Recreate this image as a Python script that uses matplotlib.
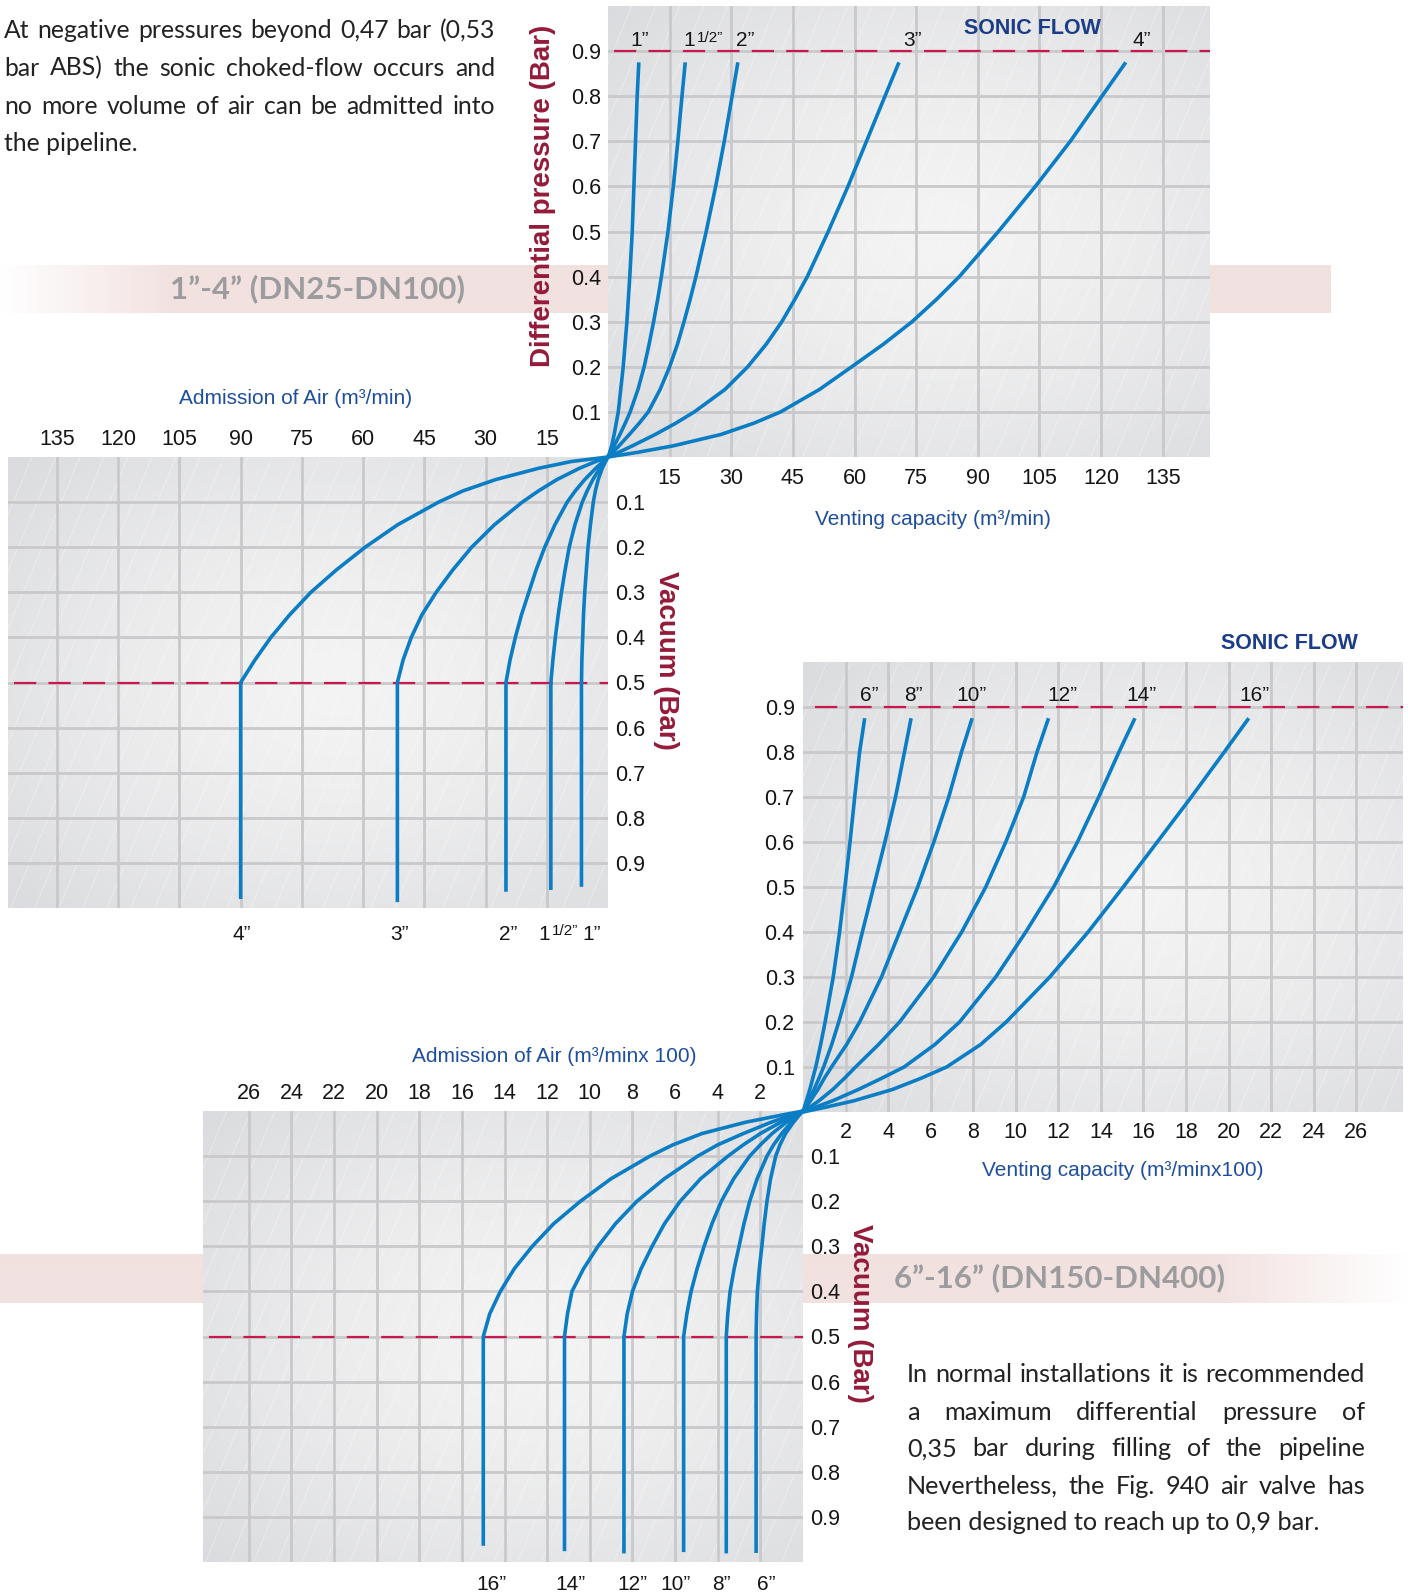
import numpy as np
import matplotlib
matplotlib.use('Agg')
import matplotlib.pyplot as plt
from matplotlib.collections import LineCollection
from matplotlib.transforms import IdentityTransform

plt.rcParams['font.family'] = ['Liberation Sans', 'DejaVu Sans']

W, H = 1408, 1595

# ---- axis ticks
pressure_ticks = [0.1, 0.2, 0.3, 0.4, 0.5, 0.6, 0.7, 0.8, 0.9]
pressure_labels = ['0.1', '0.2', '0.3', '0.4', '0.5', '0.6', '0.7', '0.8', '0.9']
small_flow_ticks = [15, 30, 45, 60, 75, 90, 105, 120, 135]
large_flow_ticks = [2, 4, 6, 8, 10, 12, 14, 16, 18, 20, 22, 24, 26]

# ---- venting 1"-4" (m3/min vs differential pressure, bar)
vent_small_y = [0, 0.01, 0.025, 0.05, 0.075, 0.1, 0.15, 0.2, 0.25, 0.3, 0.35, 0.4,
                0.5, 0.6, 0.7, 0.8, 0.875]
vent_1in = [0, 0.4, 0.9, 1.5, 2.0, 2.5, 3.1, 3.7, 4.15, 4.6, 4.95, 5.3,
            5.9, 6.3, 6.7, 7.1, 7.5]
vent_1_5in = [0, 0.6, 1.5, 2.9, 4.2, 5.4, 7.3, 8.8, 10.0, 11.1, 12.1, 13.0,
              14.6, 15.9, 17.0, 18.0, 18.8]
vent_2in = [0, 1.1, 2.7, 5.2, 7.6, 9.8, 12.7, 15.0, 16.9, 18.5, 20.0, 21.4,
            23.9, 26.2, 28.3, 30.2, 31.6]
vent_3in = [0, 2.5, 6.0, 11.5, 16.5, 21.0, 28.5, 34.0, 38.5, 42.3, 45.5, 48.5,
            53.6, 58.4, 62.9, 67.4, 70.8]
vent_4in = [0, 7.0, 16.0, 27.5, 35.5, 42.0, 51.5, 59.3, 67.0, 74.0, 80.0, 85.5,
            95.0, 104.0, 112.5, 120.2, 126.0]

# ---- admission 1"-4" (m3/min vs vacuum, bar)
adm_small_y = [0, 0.01, 0.025, 0.05, 0.075, 0.1, 0.15, 0.2, 0.25, 0.3, 0.35, 0.4, 0.45, 0.5]
adm_1in = [0, 0.6, 1.4, 2.4, 3.1, 3.6, 4.3, 4.9, 5.3, 5.7, 6.0, 6.2, 6.4, 6.5]
adm_1_5in = [0, 0.8, 2.0, 3.7, 5.1, 6.3, 8.1, 9.5, 10.5, 11.4, 12.2, 12.9, 13.5, 14.0]
adm_2in = [0, 1.2, 3.0, 5.7, 8.0, 10.0, 13.0, 15.5, 17.6, 19.4, 21.2, 22.7, 24.0, 25.0]
adm_3in = [0, 3.0, 7.0, 12.5, 17.0, 21.0, 27.8, 33.4, 38.0, 42.1, 45.6, 48.2, 50.2, 51.6]
adm_4in = [0, 9.0, 17.0, 27.5, 35.5, 41.5, 51.5, 59.5, 66.5, 72.8, 78.0, 82.6, 86.5, 90.0]
adm_small_end = [0.953, 0.96, 0.964, 0.987, 0.98]

# ---- venting 6"-16" (m3/min x100)
vent_big_y = [0, 0.01, 0.025, 0.05, 0.075, 0.1, 0.15, 0.2, 0.3, 0.4, 0.5, 0.6, 0.7, 0.8, 0.875]
vent_6in = [0, 0.06, 0.16, 0.32, 0.46, 0.6, 0.83, 1.04, 1.42, 1.72, 1.97, 2.21, 2.43, 2.66, 2.9]
vent_8in = [0, 0.11, 0.27, 0.52, 0.75, 0.97, 1.35, 1.68, 2.28, 2.79, 3.32, 3.85, 4.35, 4.77, 5.08]
vent_10in = [0, 0.14, 0.35, 0.7, 1.0, 1.34, 2.05, 2.66, 3.69, 4.54, 5.39, 6.15, 6.85, 7.45, 7.95]
vent_12in = [0, 0.3, 0.75, 1.4, 1.95, 2.47, 3.55, 4.54, 6.14, 7.46, 8.59, 9.53, 10.37, 11.0, 11.54]
vent_14in = [0, 0.55, 1.4, 2.6, 3.7, 4.75, 6.2, 7.36, 9.06, 10.47, 11.78, 12.9, 13.9, 14.85, 15.6]
vent_16in = [0, 1.0, 2.4, 4.2, 5.55, 6.75, 8.35, 9.55, 11.6, 13.4, 15.05, 16.65, 18.25, 19.8, 20.95]

# ---- admission 6"-16" (m3/min x100)
adm_big_y = [0, 0.01, 0.025, 0.05, 0.075, 0.1, 0.15, 0.2, 0.25, 0.3, 0.35, 0.4, 0.45, 0.5]
adm_6in = [0, 0.19, 0.45, 0.82, 1.08, 1.28, 1.52, 1.69, 1.82, 1.93, 2.05, 2.14, 2.18, 2.2]
adm_8in = [0, 0.23, 0.55, 1.0, 1.38, 1.69, 2.15, 2.5, 2.77, 3.0, 3.23, 3.42, 3.53, 3.6]
adm_10in = [0, 0.32, 0.78, 1.45, 2.0, 2.5, 3.25, 3.83, 4.27, 4.64, 4.97, 5.25, 5.45, 5.6]
adm_12in = [0, 0.42, 1.05, 2.0, 2.8, 3.52, 4.8, 5.76, 6.5, 7.08, 7.6, 8.0, 8.25, 8.4]
adm_14in = [0, 0.6, 1.5, 2.8, 4.0, 4.94, 6.5, 7.79, 8.8, 9.62, 10.3, 10.84, 11.05, 11.19]
adm_16in = [0, 1.1, 2.7, 4.74, 6.1, 7.18, 9.0, 10.44, 11.7, 12.7, 13.55, 14.2, 14.7, 15.0]
adm_big_end = [0.98, 0.981, 0.978, 0.981, 0.976, 0.964]

# curve labels: (text, x position)
vent_small_labels = [('1”', 7.8), ('2”', 33.3), ('3”', 74.0), ('4”', 129.9)]
adm_small_labels = [('4”', 89.7), ('3”', 51.1), ('2”', 24.4), ('1”', 4.0)]
vent_big_labels = [('6”', 3.1), ('8”', 5.2), ('10”', 7.9), ('12”', 12.2), ('14”', 15.9), ('16”', 21.2)]
adm_big_labels = [('16”', 14.6), ('14”', 10.9), ('12”', 8.0), ('10”', 6.0), ('8”', 3.85), ('6”', 1.74)]

top_note = ["At negative pressures beyond 0,47 bar (0,53",
            "bar ABS) the sonic choked-flow occurs and",
            "no more volume of air can be admitted into",
            "the pipeline."]
bottom_note = ["In normal installations it is recommended",
               "a maximum differential pressure of",
               "0,35 bar during filling of the pipeline",
               "Nevertheless, the Fig. 940 air valve has",
               "been designed to reach up to 0,9 bar."]

BLUE_LINE = '#0b7dc4'
RED_DASH = '#c8194f'
DARK_RED = '#941a38'
TITLE_BLUE = '#1f4f9c'
SONIC_BLUE = '#1b3d87'
GRID = '#c9c9cb'
BAND = np.array([241, 225, 223]) / 255
BAND_TEXT = '#9c9c9f'
TICK = '#151515'
BODY = '#222222'

fig = plt.figure(figsize=(W / 100, H / 100), dpi=100)
fig.patch.set_facecolor('white')


def fx(x):
    return x / W


def fy(y):
    return 1 - y / H


# pink bands behind the panels
bg = fig.add_axes([0, 0, 1, 1], zorder=-5)
bg.set_xlim(0, W)
bg.set_ylim(H, 0)
bg.axis('off')

xs = np.arange(0, 1331)
t = np.clip(xs / 180.0, 0, 1)[None, :, None]
band1 = (1 - t) * 1.0 + t * BAND
bg.imshow(band1, extent=(0, 1331, 313, 265), aspect='auto', interpolation='bilinear')
xs = np.arange(0, W)
t = np.clip((W - xs) / 200.0, 0, 1)[None, :, None]
band2 = (1 - t) * 1.0 + t * BAND
bg.imshow(band2, extent=(0, W, 1303, 1254), aspect='auto', interpolation='bilinear')

# soft panel shading
u, v = np.meshgrid(np.linspace(0, 1, 200), np.linspace(0, 1, 200))
r = np.sqrt(((u - 0.55) / 0.75) ** 2 + ((v - 0.5) / 0.75) ** 2)
k = np.clip(r, 0, 1)[..., None] ** 1.4
light = np.array([244, 244, 244]) / 255
dark = np.array([218, 219, 222]) / 255
shade = (1 - k) * light + k * dark


def add_panel(left, top, right, bottom, xlim, ylim, xticks, xlabels):
    ax = fig.add_axes([fx(left), fy(bottom), (right - left) / W, (bottom - top) / H])
    ax.imshow(shade, extent=(0, 1, 0, 1), transform=ax.transAxes, aspect='auto',
              interpolation='bicubic', zorder=0)
    # faint diagonal streaks
    segs = []
    h = bottom - top
    for c in np.arange(left - 0.42 * h, right, 24):
        segs.append([(c, H - bottom), (c + 0.42 * h, H - top)])
    lc = LineCollection(segs, colors=[(1, 1, 1, 0.35)], linewidths=0.7,
                        transform=IdentityTransform(), zorder=0.3)
    ax.add_collection(lc, autolim=False)
    ax.set_xlim(*xlim)
    ax.set_ylim(*ylim)
    ax.set_xticks(xticks)
    ax.set_xticklabels(xlabels)
    ax.set_yticks(pressure_ticks)
    ax.set_yticklabels(pressure_labels)
    ax.grid(True, color=GRID, lw=2.0)
    ax.set_axisbelow(True)
    for s in ax.spines.values():
        s.set_visible(False)
    ax.tick_params(length=0, labelsize=15.5, colors=TICK)
    return ax


def draw_curve(ax, x, y):
    ax.plot(x, y, color=BLUE_LINE, lw=2.6, solid_capstyle='butt',
            solid_joinstyle='round', clip_on=False, zorder=3)


def half_label(ax, x, y):
    ax.annotate('1', (x, y), xytext=(-5.7, 0), textcoords='offset points',
                ha='right', va='baseline', fontsize=15, color=TICK, annotation_clip=False)
    ax.annotate('1/2”', (x, y), xytext=(-4.2, 3.0), textcoords='offset points',
                ha='left', va='baseline', fontsize=11, color=TICK, annotation_clip=False)


small_labels = [str(v) for v in small_flow_ticks]
large_labels = [str(v) for v in large_flow_ticks]

# A: venting 1"-4"
axA = add_panel(608, 6, 1210, 457, (0, 146.5), (0, 1.0), small_flow_ticks, small_labels)
axA.tick_params(axis='y', pad=5)
axA.tick_params(axis='x', pad=8)
axA.axhline(0.9, xmin=0.01, color=RED_DASH, lw=1.6, dashes=(10, 5.5), zorder=2.5)
for xv in [vent_1in, vent_1_5in, vent_2in, vent_3in, vent_4in]:
    draw_curve(axA, xv, vent_small_y)
for lab, xv in vent_small_labels:
    axA.text(xv, 0.912, lab, ha='center', va='baseline', fontsize=15, color=TICK)
half_label(axA, 23.1, 0.912)

# B: admission 1"-4"
axB = add_panel(8, 457, 608, 908, (147, 0), (1.0, 0), small_flow_ticks, small_labels)
axB.xaxis.tick_top()
axB.yaxis.tick_right()
axB.tick_params(axis='x', pad=5)
axB.tick_params(axis='y', pad=5)
axB.axhline(0.5, xmin=0.01, color=RED_DASH, lw=1.6, dashes=(10, 5.5), zorder=2.5)
for xv, end in zip([adm_1in, adm_1_5in, adm_2in, adm_3in, adm_4in], adm_small_end):
    draw_curve(axB, xv + [xv[-1]], adm_small_y + [end])
for lab, xv in adm_small_labels:
    axB.text(xv, 1.07, lab, ha='center', va='baseline', fontsize=15, color=TICK)
half_label(axB, 12.2, 1.07)

# C: venting 6"-16"
axC = add_panel(803, 662, 1403, 1112, (0, 28.2), (0, 1.0), large_flow_ticks, large_labels)
axC.tick_params(axis='y', pad=6)
axC.tick_params(axis='x', pad=7)
axC.axhline(0.9, xmin=0.02, color=RED_DASH, lw=1.6, dashes=(10, 5.5), zorder=2.5)
for xv in [vent_6in, vent_8in, vent_10in, vent_12in, vent_14in, vent_16in]:
    draw_curve(axC, xv, vent_big_y)
for lab, xv in vent_big_labels:
    axC.text(xv, 0.913, lab, ha='center', va='baseline', fontsize=15, color=TICK)

# D: admission 6"-16"
axD = add_panel(203, 1111, 803, 1562, (28.15, 0), (1.0, 0), large_flow_ticks, large_labels)
axD.xaxis.tick_top()
axD.yaxis.tick_right()
axD.tick_params(axis='x', pad=5)
axD.tick_params(axis='y', pad=5)
axD.axhline(0.5, xmin=0.01, color=RED_DASH, lw=1.6, dashes=(10, 5.5), zorder=2.5)
for xv, end in zip([adm_6in, adm_8in, adm_10in, adm_12in, adm_14in, adm_16in], adm_big_end):
    draw_curve(axD, xv + [xv[-1]], adm_big_y + [end])
for lab, xv in adm_big_labels:
    axD.text(xv, 1.063, lab, ha='center', va='baseline', fontsize=15, color=TICK)

# axis titles
fig.text(fx(543), fy(196), 'Differential pressure (Bar)', rotation=90, ha='center', va='center',
         fontsize=20, fontweight='bold', color=DARK_RED)
fig.text(fx(666), fy(660), 'Vacuum (Bar)', rotation=-90, ha='center', va='center',
         fontsize=20, fontweight='bold', color=DARK_RED)
fig.text(fx(860), fy(1313), 'Vacuum (Bar)', rotation=-90, ha='center', va='center',
         fontsize=20, fontweight='bold', color=DARK_RED)
fig.text(fx(296), fy(398), 'Admission of Air (m³/min)', ha='center', va='center',
         fontsize=15, color=TITLE_BLUE)
fig.text(fx(933), fy(520), 'Venting capacity (m³/min)', ha='center', va='center',
         fontsize=15, color=TITLE_BLUE)
fig.text(fx(554), fy(1056), 'Admission of Air (m³/minx 100)', ha='center', va='center',
         fontsize=15, color=TITLE_BLUE)
fig.text(fx(1123), fy(1171), 'Venting capacity (m³/minx100)', ha='center', va='center',
         fontsize=15, color=TITLE_BLUE)
fig.text(fx(1032), fy(28), 'SONIC FLOW', ha='center', va='center',
         fontsize=15.5, fontweight='bold', color=SONIC_BLUE)
fig.text(fx(1289), fy(643), 'SONIC FLOW', ha='center', va='center',
         fontsize=15.5, fontweight='bold', color=SONIC_BLUE)

# range titles on the bands
fig.text(fx(318), fy(289), '1”-4” (DN25-DN100)', ha='center', va='center',
         fontsize=22.5, fontweight='bold', family='Lato', color=BAND_TEXT)
fig.text(fx(1060), fy(1278), '6”-16” (DN150-DN400)', ha='center', va='center',
         fontsize=22.5, fontweight='bold', family='Lato', color=BAND_TEXT)


def justified(lines, x0, x1, ys, size):
    rend = fig.canvas.get_renderer()
    style = dict(va='center', fontsize=size, family='Lato', fontweight='normal', color=BODY)
    for i, (line, y) in enumerate(zip(lines, ys)):
        if i == len(lines) - 1:
            fig.text(fx(x0), fy(y), line, ha='left', **style)
            continue
        words = line.split()
        arts = [fig.text(0, fy(y), w_, ha='left', **style) for w_ in words]
        widths = [a.get_window_extent(rend).width for a in arts]
        gap = (x1 - x0 - sum(widths)) / (len(words) - 1)
        x = x0
        for a, wd in zip(arts, widths):
            a.set_x(fx(x))
            x += wd + gap


justified(top_note, 4, 495, [30.5, 68, 106, 143.5], 17.8)
justified(bottom_note, 907, 1365, [1375, 1412, 1449, 1486, 1523], 18.2)

fig.savefig('out.png', dpi=100, facecolor='white')
